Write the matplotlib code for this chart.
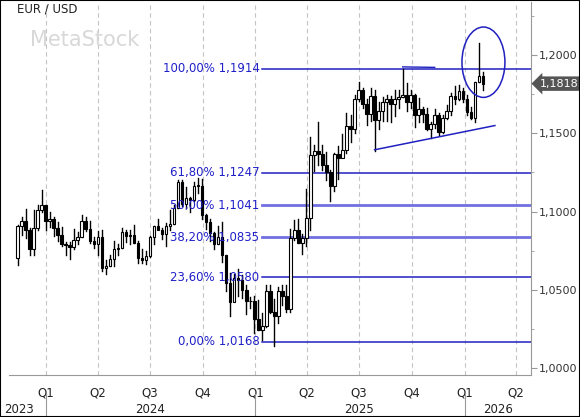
import matplotlib
matplotlib.use("Agg")
import matplotlib.pyplot as plt
import matplotlib.dates as mdates
from matplotlib.patches import Ellipse, Rectangle
import numpy as np
import datetime as dt

# weekly EUR/USD candles, first week starts 2023-11-13
start = dt.date(2023, 11, 13)
opens = [1.0700, 1.0910, 1.0940, 1.0885, 1.0760, 1.0895, 1.1010, 1.1040, 1.0940, 1.0950,
         1.0895, 1.0850, 1.0790, 1.0785, 1.0775, 1.0820, 1.0840, 1.0940, 1.0890, 1.0810,
         1.0790, 1.0835, 1.0640, 1.0655, 1.0695, 1.0760, 1.0770, 1.0870, 1.0845, 1.0850,
         1.0800, 1.0700, 1.0690, 1.0715, 1.0840, 1.0905, 1.0880, 1.0855, 1.0910, 1.0920,
         1.1025, 1.1190, 1.1050, 1.1085, 1.1075, 1.1165, 1.1165, 1.0975, 1.0935, 1.0865,
         1.0795, 1.0835, 1.0720, 1.0545, 1.0420, 1.0575, 1.0565, 1.0500, 1.0430, 1.0425,
         1.0310, 1.0245, 1.0270, 1.0495, 1.0360, 1.0330, 1.0495, 1.0460, 1.0380, 1.0830,
         1.0880, 1.0800, 1.0830, 1.0960, 1.1360, 1.1390, 1.1365, 1.1300, 1.1250, 1.1165,
         1.1365, 1.1345, 1.1395, 1.1550, 1.1525, 1.1720, 1.1780, 1.1690, 1.1625, 1.1740,
         1.1585, 1.1645, 1.1700, 1.1720, 1.1685, 1.1720, 1.1735, 1.1745, 1.1700, 1.1745,
         1.1620, 1.1655, 1.1625, 1.1530, 1.1560, 1.1620, 1.1510, 1.1600, 1.1640, 1.1740,
         1.1720, 1.1770, 1.1720, 1.1635, 1.1600, 1.1830, 1.1870]
highs = [1.0915, 1.0965, 1.1017, 1.0895, 1.1010, 1.1040, 1.1140, 1.1045, 1.0998, 1.0965,
         1.0935, 1.0900, 1.0805, 1.0805, 1.0890, 1.0870, 1.0980, 1.0965, 1.0940, 1.0840,
         1.0875, 1.0885, 1.0690, 1.0725, 1.0810, 1.0790, 1.0895, 1.0880, 1.0880, 1.0915,
         1.0810, 1.0760, 1.0750, 1.0845, 1.0905, 1.0950, 1.0895, 1.0925, 1.1010, 1.1045,
         1.1200, 1.1200, 1.1155, 1.1090, 1.1190, 1.1215, 1.1210, 1.0985, 1.0950, 1.0870,
         1.0905, 1.0935, 1.0725, 1.0610, 1.0600, 1.0630, 1.0595, 1.0530, 1.0455, 1.0460,
         1.0435, 1.0350, 1.0530, 1.0530, 1.0440, 1.0515, 1.0530, 1.0530, 1.0890, 1.0945,
         1.0955, 1.0855, 1.1145, 1.1475, 1.1425, 1.1575, 1.1425, 1.1380, 1.1265, 1.1375,
         1.1420, 1.1495, 1.1630, 1.1615, 1.1745, 1.1830, 1.1790, 1.1720, 1.1790, 1.1775,
         1.1700, 1.1730, 1.1745, 1.1740, 1.1780, 1.1780, 1.1914, 1.1820, 1.1780, 1.1750,
         1.1725, 1.1670, 1.1665, 1.1570, 1.1655, 1.1630, 1.1615, 1.1680, 1.1760, 1.1800,
         1.1810, 1.1790, 1.1745, 1.1670, 1.1830, 1.2080, 1.1890]
lows = [1.0660, 1.0850, 1.0830, 1.0720, 1.0725, 1.0880, 1.1000, 1.0880, 1.0900, 1.0845,
        1.0815, 1.0780, 1.0720, 1.0695, 1.0760, 1.0795, 1.0835, 1.0875, 1.0800, 1.0765,
        1.0725, 1.0620, 1.0600, 1.0650, 1.0650, 1.0725, 1.0765, 1.0805, 1.0790, 1.0800,
        1.0670, 1.0670, 1.0665, 1.0710, 1.0790, 1.0890, 1.0825, 1.0780, 1.0880, 1.0920,
        1.1020, 1.1035, 1.1025, 1.1000, 1.1070, 1.1120, 1.0950, 1.0890, 1.0810, 1.0760,
        1.0790, 1.0680, 1.0495, 1.0335, 1.0425, 1.0460, 1.0450, 1.0345, 1.0385, 1.0225,
        1.0240, 1.0180, 1.0265, 1.0350, 1.0140, 1.0285, 1.0400, 1.0360, 1.0360, 1.0820,
        1.0800, 1.0730, 1.0780, 1.0880, 1.1260, 1.1300, 1.1265, 1.1200, 1.1065, 1.1130,
        1.1210, 1.1355, 1.1375, 1.1445, 1.1500, 1.1710, 1.1665, 1.1555, 1.1580, 1.1390,
        1.1530, 1.1580, 1.1580, 1.1575, 1.1610, 1.1660, 1.1730, 1.1645, 1.1660, 1.1540,
        1.1570, 1.1570, 1.1520, 1.1470, 1.1535, 1.1490, 1.1500, 1.1590, 1.1615, 1.1690,
        1.1715, 1.1700, 1.1615, 1.1590, 1.1575, 1.1830, 1.1780]
closes = opens[1:] + [1.1818]

fib_levels = [1.1914, 1.1247, 1.1041, 1.0835, 1.0580, 1.0168]
fib_labels = ["100,00% 1,1914", "61,80% 1,1247", "50,00% 1,1041",
              "38,20% 1,0835", "23,60% 1,0580", "0,00% 1,0168"]
fib_light = [False, False, True, True, False, False]

dates = [start + dt.timedelta(weeks=i) for i in range(len(opens))]
x = mdates.date2num(dates)

fig = plt.figure(figsize=(5.8, 4.17), dpi=100)
ax = fig.add_axes([9 / 580, 42 / 417, 522 / 580, 373 / 417])

w = 4.5
for xi, o, h, l, c in zip(x, opens, highs, lows, closes):
    ax.plot([xi, xi], [l, h], color="black", lw=1, zorder=3)
    face = "white" if c >= o else "black"
    ax.add_patch(Rectangle((xi - w / 2, min(o, c)), w, max(abs(c - o), 0.0004),
                           facecolor=face, edgecolor="black", lw=0.8, zorder=4))

fib_start = mdates.date2num(dt.date(2025, 1, 13))
xmax = mdates.date2num(dt.date(2026, 4, 27))
for lev, lab, light in zip(fib_levels, fib_labels, fib_light):
    ax.plot([fib_start, xmax], [lev, lev], color="#7070e0" if light else "#2020c0",
            lw=2 if light else 1.1, zorder=2)
    ax.text(fib_start - 5, lev, lab, color="#2020c8", fontsize=8.5,
            ha="right", va="center", zorder=5)

# trend line and top line
ax.plot(mdates.date2num([dt.date(2025, 7, 28), dt.date(2026, 2, 23)]), [1.1395, 1.1550],
        color="#2020c0", lw=1.1, zorder=5)
ax.plot(mdates.date2num([dt.date(2025, 9, 15), dt.date(2025, 11, 10)]), [1.1925, 1.1922],
        color="#2020c0", lw=1, zorder=5)
ax.add_patch(Ellipse((mdates.date2num(dt.date(2026, 2, 3)), 1.1955), 75, 0.045,
                     fill=False, edgecolor="#2020c0", lw=1.1, zorder=5))

ax.set_xlim(mdates.date2num(dt.date(2023, 10, 29)), xmax)
ax.set_ylim(0.9955, 1.234)

quarters = [dt.date(y, m, 1) for y in (2024, 2025, 2026) for m in (1, 4, 7, 10)][:10]
ax.set_xticks(mdates.date2num(quarters))
ax.set_xticklabels(["Q%d" % ((q.month - 1) // 3 + 1) for q in quarters], fontsize=8.5, color="#222222")
ax.tick_params(axis="x", length=0, pad=8)
for q in quarters:
    ax.axvline(mdates.date2num(q), color="#c4c4c4", ls=(0, (4, 3)), lw=0.8, zorder=1)

years = [("2023", dt.date(2023, 11, 15)), ("2024", dt.date(2024, 7, 1)),
         ("2025", dt.date(2025, 7, 1)), ("2026", dt.date(2026, 2, 28))]
for lab, d in years:
    ax.text(mdates.date2num(d), -0.093, lab, transform=ax.get_xaxis_transform(),
            ha="center", va="center", fontsize=8.5, color="#222222")
for yy in (2024, 2025, 2026):
    ax.plot([mdates.date2num(dt.date(yy, 1, 1))] * 2, [-0.05, -0.12], color="#999999",
            lw=0.8, transform=ax.get_xaxis_transform(), clip_on=False)

ax.yaxis.tick_right()
yt = [1.0, 1.05, 1.10, 1.15, 1.20]
ax.set_yticks(yt)
ax.set_yticklabels([("%.4f" % v).replace(".", ",") for v in yt], fontsize=8, color="#333333")
ax.set_yticks(np.arange(1.0, 1.23, 0.025), minor=True)
ax.tick_params(axis="y", which="major", length=4, pad=1.5, color="#999999")
ax.tick_params(axis="y", which="minor", length=2.5, color="#999999")

for s in ("top", "left"):
    ax.spines[s].set_visible(False)
for s in ("bottom", "right"):
    ax.spines[s].set_color("#999999")

ax.annotate("1,1818", xy=(1.0, 1.1818), xycoords=("axes fraction", "data"),
            xytext=(6, 0), textcoords="offset points", ha="left", va="center",
            fontsize=8, color="white",
            bbox=dict(boxstyle="larrow,pad=0.2", fc="#555555", ec="none"))

fig.text(17 / 580, 1 - 9 / 417, "EUR / USD", fontsize=8.5, color="#222222", va="center")
fig.text(30 / 580, 1 - 40 / 417, "MetaStock", fontsize=15, color="#d8d8d8", va="center")
fig.add_artist(Rectangle((0, 0), 1, 1, transform=fig.transFigure, fill=False,
                         edgecolor="black", lw=1.5))

fig.savefig("out.png", dpi=100)
